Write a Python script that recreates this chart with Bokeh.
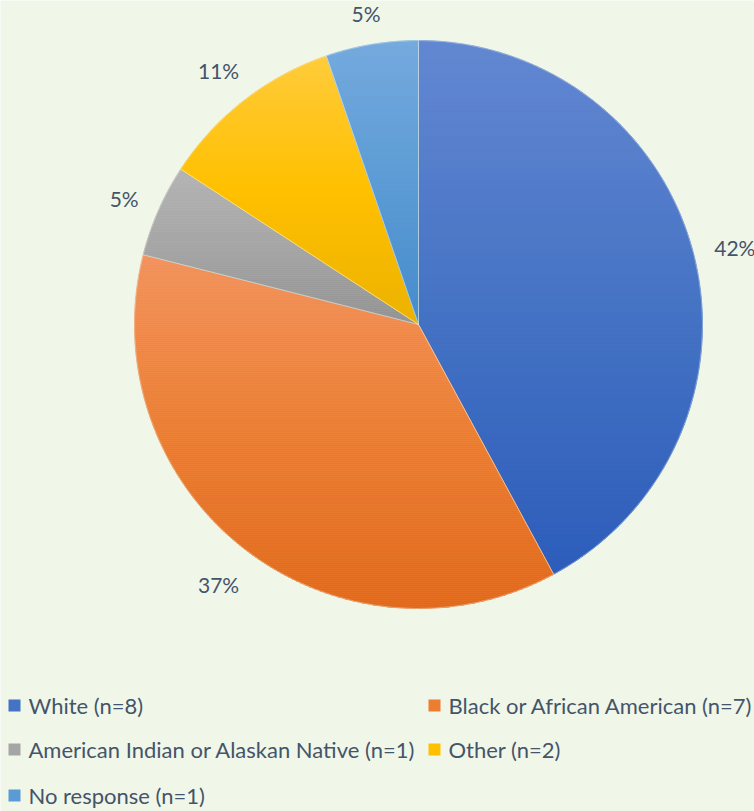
import numpy as np
from bokeh.plotting import figure
from bokeh.models import Range1d, ColumnDataSource
from bokeh.core.properties import value
from bokeh.embed import file_html
from bokeh.resources import INLINE

# ---- data ----
categories = ["White", "Black or African American", "American Indian or Alaskan Native", "Other", "No response"]
counts = [8, 7, 1, 2, 1]
legend_labels = ["White (n=8)", "Black or African American (n=7)",
                 "American Indian or Alaskan Native (n=1)", "Other (n=2)", "No response (n=1)"]
# gradient stops per slice (top, middle, bottom)
colors_top = ["#6287D2", "#F4925B", "#B3B3B3", "#FFCB3C", "#74A9DE"]
colors_mid = ["#4472C4", "#ED7D31", "#A5A5A5", "#FFC000", "#5B9BD5"]
colors_bot = ["#2C5CBB", "#E2681A", "#939393", "#ECB200", "#458BCC"]

W, H = 754, 811
BG = "#F0F7E8"
TXT = "#44546A"
FONT = "Lato"

p = figure(width=W, height=H, output_backend="svg", toolbar_location=None,
           x_range=Range1d(0, W), y_range=Range1d(0, H), min_border=0)
p.axis.visible = False
p.grid.visible = False
p.outline_line_color = None
p.background_fill_color = BG
p.border_fill_color = BG

cx, cy, r = 418, H - 324, 284
vals = np.array(counts, dtype=float)
total = vals.sum()
cum = np.concatenate([[0], np.cumsum(vals)])
start = np.pi / 2 - cum[:-1] / total * 2 * np.pi
end = np.pi / 2 - cum[1:] / total * 2 * np.pi
mid = (start + end) / 2
pct = [f"{round(v / total * 100):.0f}%" for v in vals]


def hex2rgb(h):
    h = h.lstrip("#")
    return np.array([int(h[i:i + 2], 16) for i in (0, 2, 4)], dtype=float)


def grad(t, c0, c1, c2):
    a, b, c = hex2rgb(c0), hex2rgb(c1), hex2rgb(c2)
    rgb = a + (b - a) * (t / 0.5) if t < 0.5 else b + (c - b) * ((t - 0.5) / 0.5)
    return "#%02x%02x%02x" % tuple(int(round(v)) for v in rgb)


def clip(poly, y0, keep_above):
    out = []
    n = len(poly)
    for i in range(n):
        P, Q = poly[i], poly[(i + 1) % n]
        inP = P[1] >= y0 if keep_above else P[1] <= y0
        inQ = Q[1] >= y0 if keep_above else Q[1] <= y0
        if inP:
            out.append(P)
        if inP != inQ:
            t = (y0 - P[1]) / (Q[1] - P[1])
            out.append((P[0] + t * (Q[0] - P[0]), y0))
    return out


xs_all, ys_all, fc_all = [], [], []
band = 2.0
for i in range(len(vals)):
    n = max(8, int(abs(start[i] - end[i]) * 80))
    ang = np.linspace(start[i], end[i], n)
    poly = [(cx, cy)] + [(cx + r * np.cos(a), cy + r * np.sin(a)) for a in ang]
    ymin = min(pt[1] for pt in poly)
    ymax = max(pt[1] for pt in poly)
    y = ymax
    while y > ymin:
        y1 = max(y - band, ymin)
        piece = clip(clip(poly, y1, True), y, False)
        if len(piece) >= 3:
            t = (ymax - (y + y1) / 2) / (ymax - ymin)
            xs_all.append([pt[0] for pt in piece])
            ys_all.append([pt[1] for pt in piece])
            fc_all.append(grad(t, colors_top[i], colors_mid[i], colors_bot[i]))
        y = y1

p.patches(xs="xs", ys="ys", fill_color="c", line_color="c", line_width=0.8,
          source=ColumnDataSource(dict(xs=xs_all, ys=ys_all, c=fc_all)))

# thin separators between slices
src = ColumnDataSource(dict(start=start, end=end, cat=categories))
p.wedge(x=cx, y=cy, radius=r, start_angle="start", end_angle="end", direction="clock",
        fill_alpha=0, line_color=BG, line_alpha=0.5, line_width=0.7, source=src)

# data labels, placed outside the pie (Excel-like best-fit outside end)
fs_lab = 21
r0 = 306
hw = np.array([0.29 * fs_lab * len(t) for t in pct])
hh = 0.5 * fs_lab
lr = r0 + np.abs(np.cos(mid)) * hw + np.abs(np.sin(mid)) * hh
lab = ColumnDataSource(dict(x=cx + lr * np.cos(mid), y=cy + lr * np.sin(mid) - 3, t=pct))
p.text(x="x", y="y", text="t", source=lab, text_font=value(FONT), text_font_size=f"{fs_lab}px",
       text_color=TXT, text_align="center", text_baseline="middle")

# legend (manual, two columns)
row_y = [H - 705, H - 705, H - 749, H - 749, H - 795]
col_x = [8, 428, 8, 428, 8]
leg = ColumnDataSource(dict(x=[x + 6 for x in col_x], y=row_y, tx=[x + 20 for x in col_x],
                            t=legend_labels, color=colors_mid))
p.rect(x="x", y="y", width=12, height=12, fill_color="color", line_color=None, source=leg)
p.text(x="tx", y="y", text="t", source=leg, text_font=value(FONT), text_font_size="22px",
       text_color=TXT, text_align="left", text_baseline="middle")

open("out.html", "w").write(file_html(p, INLINE))
